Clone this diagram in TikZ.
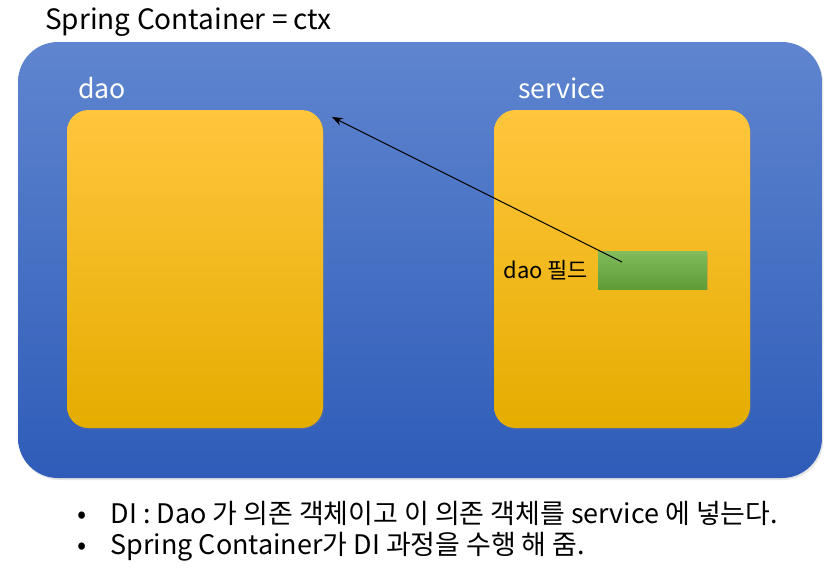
\documentclass[tikz,border=0pt]{standalone}
\usepackage{fontspec}
\setmainfont{Noto Sans CJK KR}
\usepackage{xcolor}
\usetikzlibrary{positioning,arrows.meta,shadows}

\definecolor{ctxtop}{RGB}{95,133,207}
\definecolor{ctxbot}{RGB}{46,92,184}
\definecolor{beantop}{RGB}{255,198,62}
\definecolor{beanmid}{RGB}{255,192,0}
\definecolor{beanbot}{RGB}{229,172,0}
\definecolor{fieldtop}{RGB}{130,188,92}
\definecolor{fieldbot}{RGB}{94,156,54}

\begin{document}
\begin{tikzpicture}[x=0.75pt, y=-0.75pt,
			container/.style={
					rectangle,
					rounded corners=30pt,
					top color=ctxtop,
					bottom color=ctxbot,
					minimum width=603pt,
					minimum height=327pt,
					drop shadow={opacity=0.2, shadow xshift=1pt, shadow yshift=-1.5pt}
				},
			bean/.style={
					rectangle,
					rounded corners=16pt,
					top color=beantop,
					middle color=beanmid,
					bottom color=beanbot,
					minimum width=192pt,
					minimum height=238.5pt,
					drop shadow={opacity=0.25, shadow xshift=1pt, shadow yshift=-1pt}
				},
			field/.style={
					rectangle,
					top color=fieldtop,
					bottom color=fieldbot,
					minimum width=81.75pt,
					minimum height=28.5pt,
					drop shadow={opacity=0.3, shadow xshift=1pt, shadow yshift=-1pt}
				},
			beanname/.style={text=white, font=\fontsize{20}{24}\selectfont, inner sep=0pt, anchor=base west},
			note/.style={anchor=base west, inner sep=0pt, font=\fontsize{20.2}{24}\selectfont},
			line/.style={draw, -{Stealth[length=8pt, width=6pt]}, line width=0.8pt}
		]
		\useasboundingbox[fill=white] (0,0) rectangle (838,572);
		% Place nodes
		\node [anchor=base west, inner sep=0pt, font=\fontsize{21}{24}\selectfont] (title) at (45,29) {Spring Container = ctx};
		\node [container] (ctx) at (420,260) {};
		\node [bean] (dao) at (195,269) {};
		\node [bean] (service) at (622,269) {};
		\node [beanname] (daoname) at (78,98) {dao};
		\node [beanname] (servicename) at (518,98) {service};
		\node [field] (daofield) at (652.5,270) {};
		\node [left=7pt of daofield, inner sep=0pt, font=\fontsize{16.5}{20}\selectfont] (fieldname) {dao 필드};
		\coordinate (tail) at (622,262);
		\coordinate (head) at (332,117);
		% Bullet list
		\node [note] (note1) at (77,523) {•\hspace{18.2pt}DI : Dao 가 의존 객체이고 이 의존 객체를 service 에 넣는다.};
		\node [note] (note2) at (77,554) {•\hspace{18.2pt}Spring Container가 DI 과정을 수행 해 줌.};
		% Draw edges
		\path [line] (tail) -- (head);
	\end{tikzpicture}
\end{document}
